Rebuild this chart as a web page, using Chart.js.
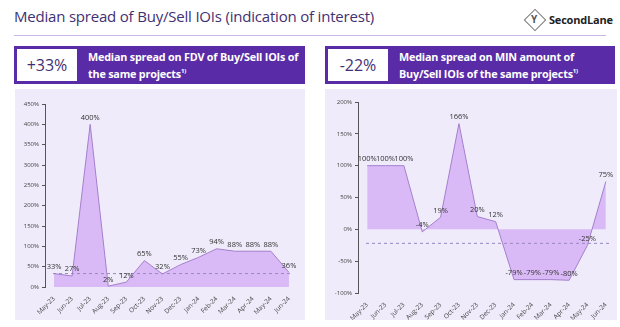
<!DOCTYPE html>
<html>
<head>
<meta charset="utf-8">
<script src="https://cdn.jsdelivr.net/npm/chart.js@4.4.0/dist/chart.umd.min.js"></script>
<style>
  body { margin: 0; width: 620px; height: 327px; background: #fff; font-family: "Open Sans", sans-serif; position: relative; overflow: hidden; }
  .title { position: absolute; left: 14px; top: 6px; font-size: 15px; color: #3f3173; letter-spacing: -0.2px; }
  .rule { position: absolute; left: 14px; top: 35px; width: 592px; height: 1px; background: #c9b8e6; }
  .logo { position: absolute; left: 524px; top: 9px; width: 96px; height: 24px; }
  .diamond { position: absolute; left: 3px; top: 3px; width: 14px; height: 14px; border: 1.5px solid #777; transform: rotate(45deg); }
  .logo .y { position: absolute; left: 7px; top: 3px; font-size: 10px; color: #555; font-weight: 700; }
  .logo .name { position: absolute; left: 25px; top: 3px; font-size: 11px; font-weight: 700; color: #222; letter-spacing: -0.2px; }
  .head { position: absolute; top: 46px; height: 38px; background: #5a2ba6; }
  .head .num { position: absolute; left: 3px; top: 3px; width: 60px; height: 32px; background: #fff; color: #3f3173; font-size: 16px; line-height: 32px; text-align: center; }
  .head .txt { position: absolute; left: 74px; top: 4px; color: #fff; font-size: 10.8px; font-weight: 700; line-height: 14px; letter-spacing: -0.2px; white-space: nowrap; }
  .head sup { font-size: 6px; }
  .panel { position: absolute; top: 89px; height: 231px; background: #efebfa; }
</style>
</head>
<body>
<div class="title">Median spread of Buy/Sell IOIs (indication of interest)</div>
<div class="rule"></div>
<div class="logo"><div class="diamond"></div><div class="y">Y</div><div class="name">SecondLane</div></div>

<div class="head" style="left:14px;width:291px">
  <div class="num">+33%</div>
  <div class="txt">Median spread on FDV of Buy/Sell IOIs of<br>the same projects<sup>1)</sup></div>
</div>
<div class="head" style="left:325px;width:290px">
  <div class="num">-22%</div>
  <div class="txt">Median spread on MIN amount of<br>Buy/Sell IOIs of the same projects<sup>1)</sup></div>
</div>

<div class="panel" style="left:15px;width:290px"><canvas id="fdvChart" width="290" height="231"></canvas></div>
<div class="panel" style="left:325px;width:292px"><canvas id="minChart" width="292" height="231"></canvas></div>

<script>
const months = ['May-23', 'Jun-23', 'Jul-23', 'Aug-23', 'Sep-23', 'Oct-23', 'Nov-23',
                'Dec-23', 'Jan-24', 'Feb-24', 'Mar-24', 'Apr-24', 'May-24', 'Jun-24'];
const fdvSpread = [33, 27, 400, 2, 12, 65, 32, 55, 73, 94, 88, 88, 88, 36];
const minSpread = [100, 100, 100, -4, 19, 166, 20, 12, -79, -79, -79, -80, -25, 75];
const fdvMedian = 33;
const minMedian = -22;

// подписи значений над точками + пунктирная медиана
const labelsPlugin = {
    id: 'labels',
    afterDatasetsDraw(chart, args, opts) {
        const ctx = chart.ctx;
        const area = chart.chartArea;
        const y = chart.scales.y.getPixelForValue(opts.median);
        ctx.save();
        ctx.strokeStyle = '#9a86c2';
        ctx.lineWidth = 1;
        ctx.setLineDash([3, 3]);
        ctx.beginPath();
        ctx.moveTo(area.left + 8, y);
        ctx.lineTo(area.right - 6, y);
        ctx.stroke();
        ctx.setLineDash([]);

        ctx.font = '7.5px "Open Sans", sans-serif';
        ctx.fillStyle = '#333';
        ctx.textAlign = 'center';
        ctx.textBaseline = 'bottom';
        const meta = chart.getDatasetMeta(0);
        meta.data.forEach((pt, i) => {
            ctx.fillText(chart.data.datasets[0].data[i] + '%', pt.x, pt.y - 3);
        });
        ctx.restore();
    }
};

function makeChart(canvasId, values, median, yMin, yMax, yStep, yWidth, xHeight, padRight, padTop) {
    return new Chart(document.getElementById(canvasId), {
        type: 'line',
        data: {
            labels: months,
            datasets: [{
                data: values,
                borderColor: '#a47fcc',
                borderWidth: 1,
                backgroundColor: 'rgba(214, 178, 245, 0.85)',
                fill: 'origin',
                pointRadius: 0,
                tension: 0
            }]
        },
        options: {
            responsive: false,
            animation: false,
            layout: { padding: { top: padTop, right: padRight, left: 0, bottom: 0 } },
            plugins: {
                legend: { display: false },
                tooltip: { enabled: false },
                labels: { median: median }
            },
            scales: {
                x: {
                    offset: true,
                    grid: { display: false },
                    border: { display: false },
                    ticks: {
                        autoSkip: false,
                        maxRotation: 45,
                        minRotation: 45,
                        padding: 0,
                        color: '#444',
                        font: { size: 6.5, family: '"Open Sans", sans-serif' }
                    },
                    afterFit: (scale) => { scale.height = xHeight; }
                },
                y: {
                    min: yMin,
                    max: yMax,
                    grid: { drawOnChartArea: false, drawTicks: true, tickLength: 3, color: '#555' },
                    border: { display: true, color: '#555' },
                    ticks: {
                        stepSize: yStep,
                        padding: 3,
                        color: '#444',
                        font: { size: 6, family: '"Open Sans", sans-serif' },
                        callback: v => v + '%'
                    },
                    afterFit: (scale) => { scale.width = yWidth; }
                }
            }
        },
        plugins: [labelsPlugin]
    });
}

makeChart('fdvChart', fdvSpread, fdvMedian, 0, 450, 50, 30, 33, 7, 15);
makeChart('minChart', minSpread, minMedian, -100, 200, 50, 33, 27, 2, 13);
</script>
</body>
</html>
